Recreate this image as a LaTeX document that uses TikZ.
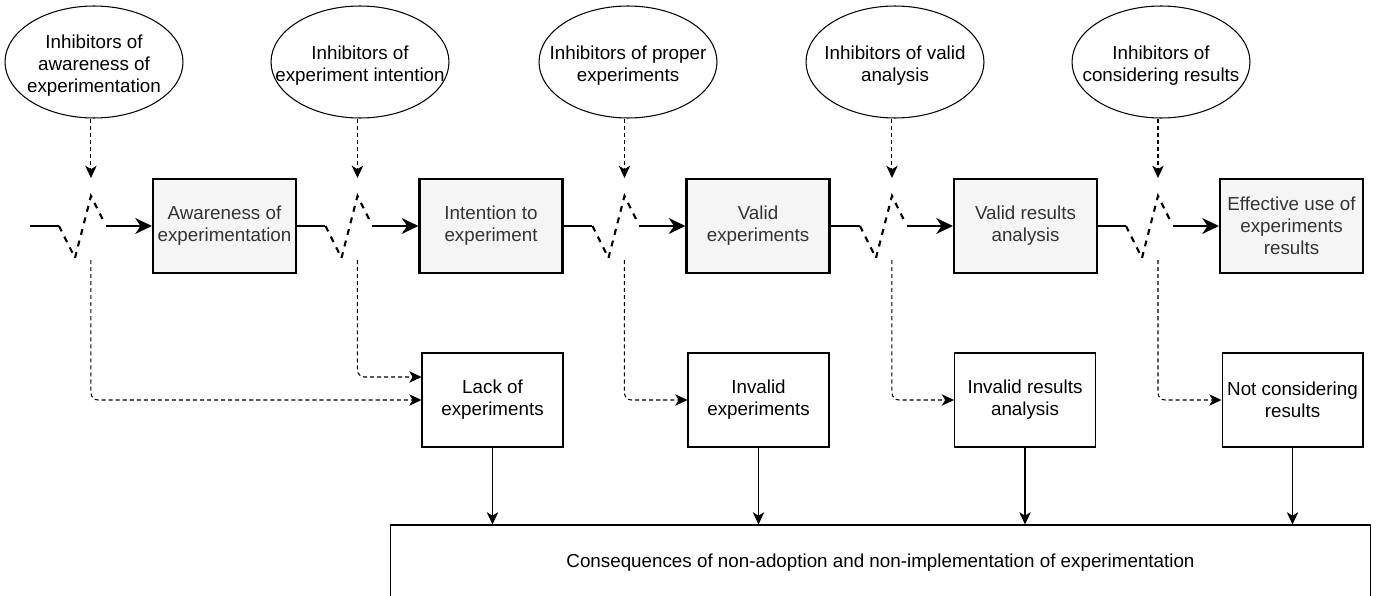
\documentclass[tikz,border=0pt]{standalone}
\usepackage{fontspec}
\setmainfont{Liberation Sans}
\usetikzlibrary{arrows.meta,positioning,calc,shapes.geometric}
\usepackage{xcolor}
\definecolor{StageFill}{HTML}{F5F5F5}
\definecolor{StageText}{HTML}{333333}
\newcommand{\diagfont}{\fontsize{10.7}{12.4}\selectfont}
\tikzset{
 stage/.style={draw=black, line width=1.2pt, fill=StageFill, text=StageText, minimum width=2.86cm, minimum height=1.88cm, align=center, inner sep=1pt, font=\diagfont},
 outcome/.style={draw=black, line width=0.6pt, fill=white, minimum width=2.82cm, minimum height=1.88cm, align=center, inner sep=1pt, font=\diagfont},
 inhibitor/.style={ellipse, draw=black, line width=0.6pt, minimum width=3.56cm, minimum height=2.24cm, inner sep=0pt},
 inhibtext/.style={align=center, inner sep=0pt, yshift=-0.07cm, font=\diagfont},
 flowline/.style={line width=1.2pt},
 flow/.style={-{Stealth[length=9.5pt,width=9pt,inset=3pt]}, line width=1.2pt},
 gate/.style={line width=1.2pt, dash pattern=on 3.4pt off 3.4pt},
 hint/.style={-{Stealth[length=7pt,width=6.5pt,inset=2pt]}, line width=0.6pt, dash pattern=on 2.3pt off 1.7pt},
 drop/.style={-{Stealth[length=7pt,width=6.5pt,inset=2pt]}, line width=0.6pt}
}

\begin{document}
\begin{tikzpicture}[x=0.02cm,y=-0.02cm]
\useasboundingbox (0,0) rectangle (1379,595);

% inhibitors
\node[inhibitor] (ia) at (94,62) {};
\node[inhibtext] (ia-t) at (ia) {Inhibitors of\\awareness of\\experimentation};
\node[inhibitor] (ii) at (360,62) {};
\node[inhibtext] (ii-t) at (ii) {Inhibitors of\\experiment intention};
\node[inhibitor] (ip) at (628,62) {};
\node[inhibtext] (ip-t) at (ip) {Inhibitors of proper\\experiments};
\node[inhibitor] (iv) at (895,62) {};
\node[inhibtext] (iv-t) at (iv) {Inhibitors of valid\\analysis};
\node[inhibitor] (ic) at (1161,62) {};
\node[inhibtext] (ic-t) at (ic) {Inhibitors of\\considering results};

% stages
\node[stage] (awa) at (224.5,226) {Awareness of\\experimentation};
\node[stage] (int) at (491,226) {Intention to\\experiment};
\node[stage] (val) at (758,226) {Valid\\experiments};
\node[stage] (res) at (1025.5,226) {Valid results\\analysis};
\node[stage] (eff) at (1291.5,226) {Effective use of\\experiments\\results};

% outcomes
\node[outcome] (lack) at (492.5,400) {Lack of\\experiments};
\node[outcome] (inv) at (758.5,400) {Invalid\\experiments};
\node[outcome] (ira) at (1025,400) {Invalid results\\analysis};
\node[outcome] (ncr) at (1292.5,400) {Not considering\\results};

\node[draw=black, line width=0.6pt, minimum width=19.62cm, minimum height=1.5cm, font=\diagfont] (cons) at (880.5,562.5) {Consequences of non-adoption and non-implementation of experimentation};

% switches in front of each stage
\foreach \b/\n in {awa/1,int/2,val/3,res/4,eff/5} {
  \coordinate (in\n) at ($(\b.west)+(-93,0)$);
  \coordinate (bot\n) at ($(\b.west)+(-77,32)$);
  \coordinate (top\n) at ($(\b.west)+(-61,-30)$);
  \coordinate (out\n) at ($(\b.west)+(-48,-4)$);
  \coordinate (go\n) at ($(\b.west)+(-46,0)$);
  \coordinate (dn\n) at ($(\b.west)+(-61,34)$);
  \coordinate (tp\n) at ($(\b.west)+(-61,-48)$);
  \draw[gate] (in\n) -- (bot\n) -- (top\n) -- (out\n);
  \draw[flow] (go\n) -- (\b.west);
}

\coordinate (start) at (30,226);
\draw[flowline] (start) -- (in1);
\draw[flowline] (awa.east) -- (in2);
\draw[flowline] (int.east) -- (in3);
\draw[flowline] (val.east) -- (in4);
\draw[flowline] (res.east) -- (in5);

% inhibitor arrows
\draw[hint] (tp1 |- ia.south) -- (tp1);
\draw[hint] (tp2 |- ii.south) -- (tp2);
\draw[hint] (tp3 |- ip.south) -- (tp3);
\draw[hint] (tp4 |- iv.south) -- (tp4);
\draw[hint] (tp5 |- ic.south) -- (tp5);

% failure paths
\draw[hint, rounded corners=4pt] (dn1) |- (lack.west);
\draw[hint, rounded corners=4pt] (dn2) |- ($(lack.west)+(0,-23)$);
\draw[hint, rounded corners=4pt] (dn3) |- (inv.west);
\draw[hint, rounded corners=4pt] (dn4) |- (ira.west);
\draw[hint, rounded corners=4pt] (dn5) |- (ncr.west);

% consequences
\draw[drop] (lack.south) -- (lack.south |- cons.north);
\draw[drop] (inv.south) -- (inv.south |- cons.north);
\draw[drop] (ira.south) -- (ira.south |- cons.north);
\draw[drop] (ncr.south) -- (ncr.south |- cons.north);
\end{tikzpicture}
\end{document}
